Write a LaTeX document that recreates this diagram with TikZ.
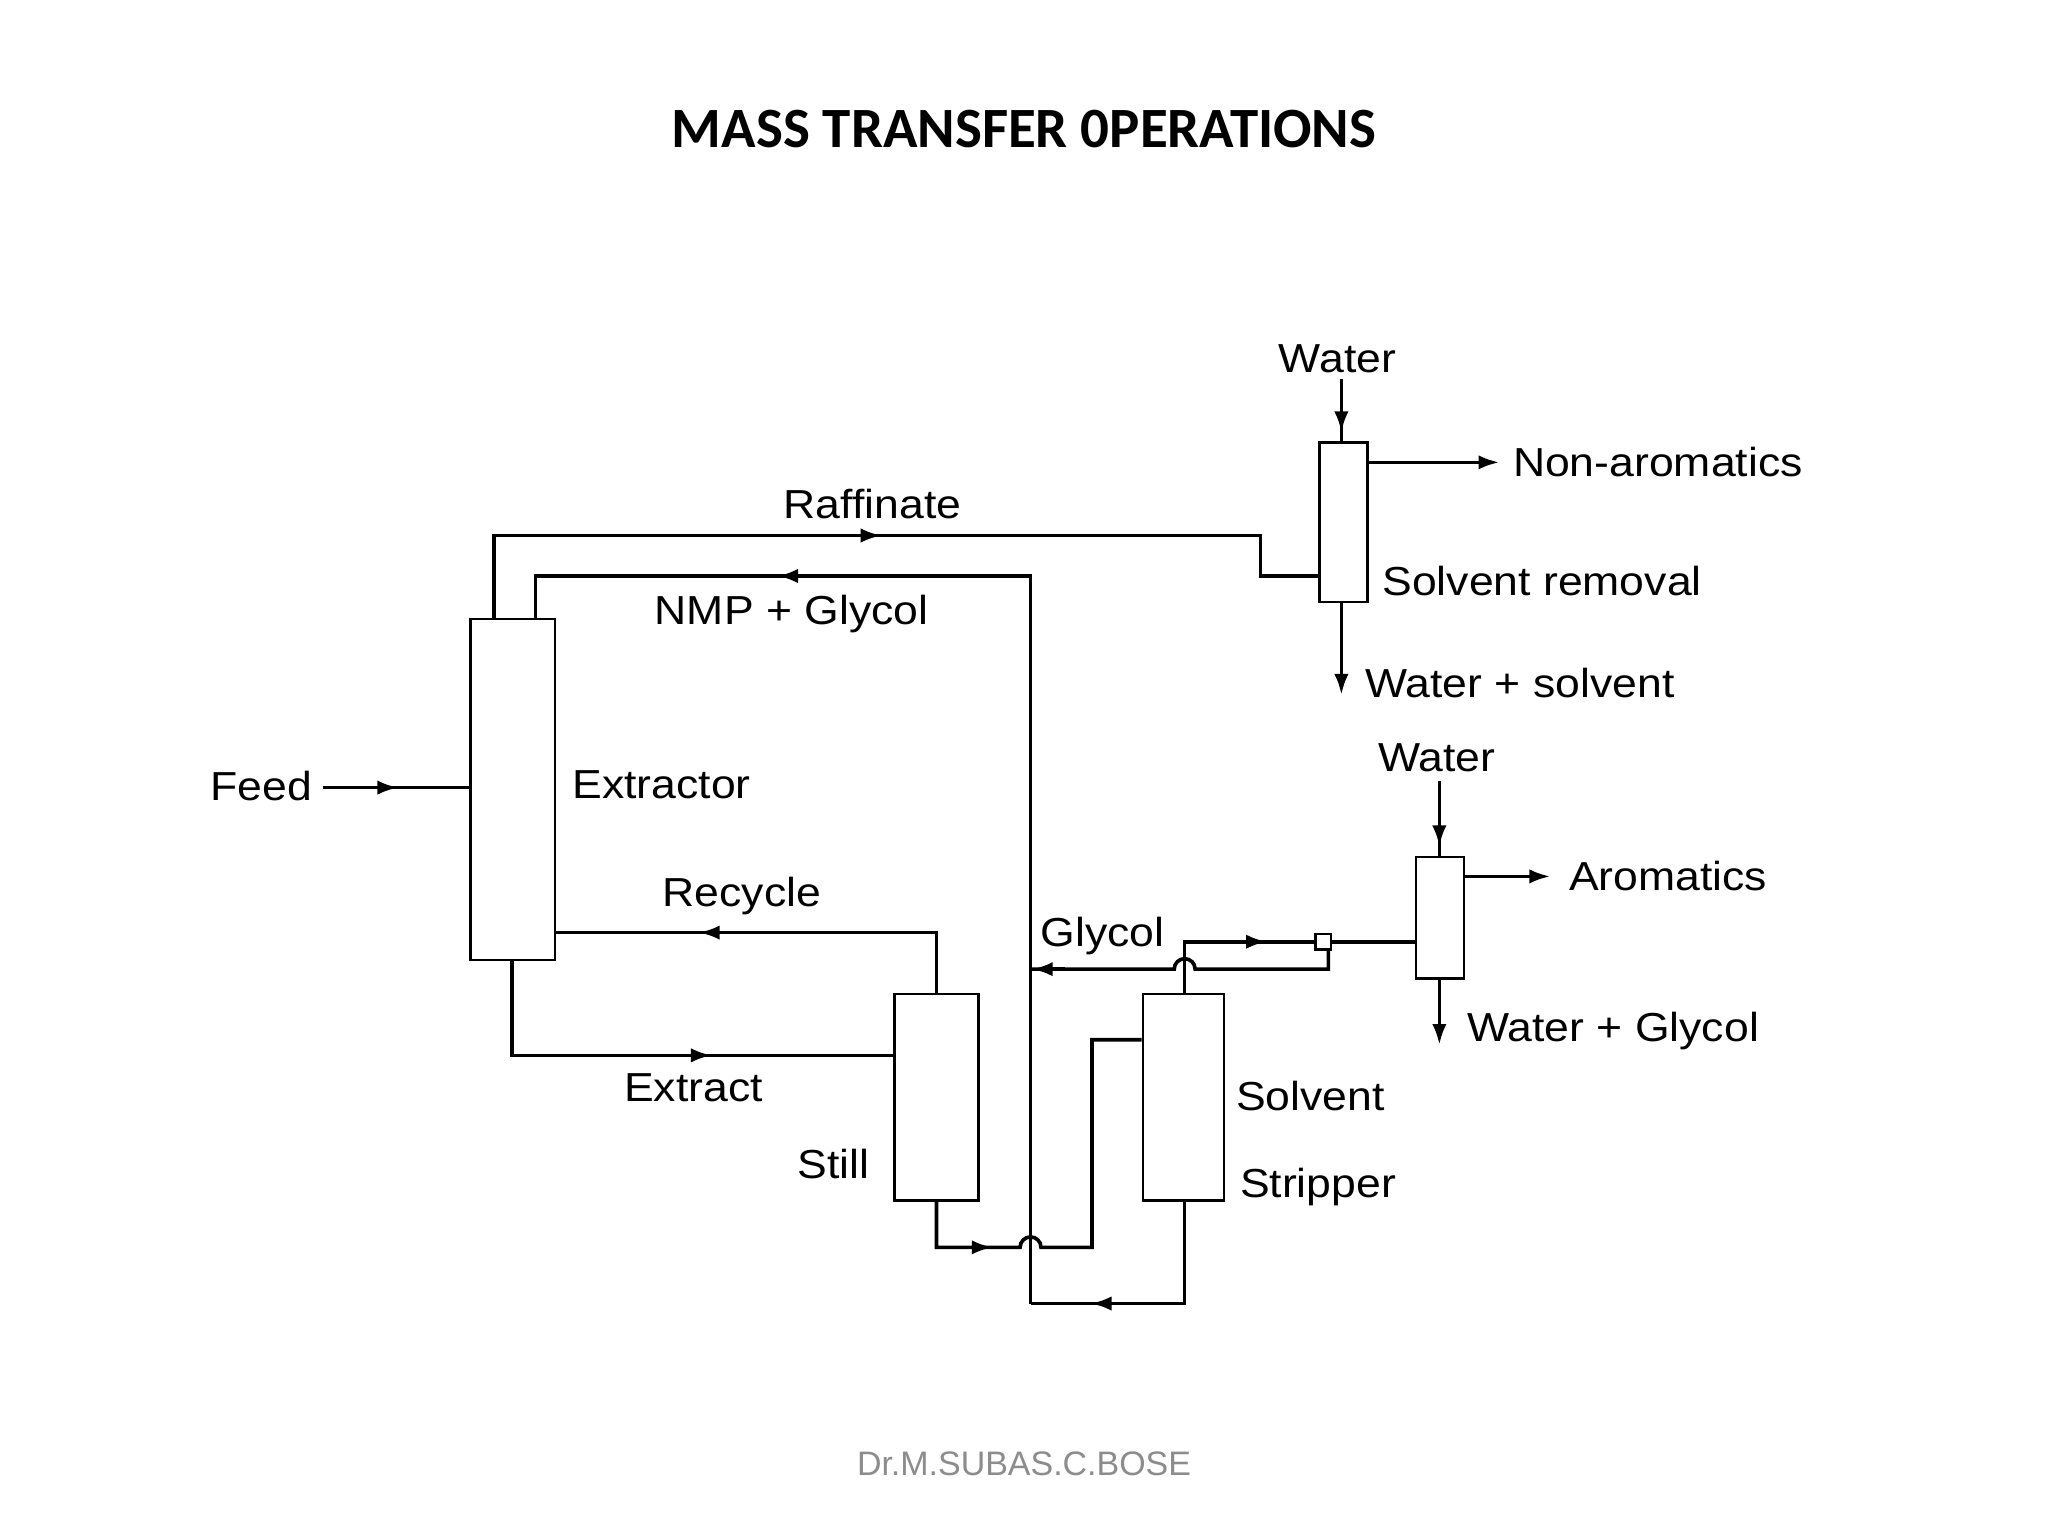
\documentclass[tikz,border=0pt]{standalone}
\usepackage{fontspec}
\setmainfont{Liberation Sans}[FakeStretch=1.1]
\newfontfamily\titlefont{Carlito}
\newfontfamily\footfont{Liberation Sans}
\usetikzlibrary{arrows.meta}
\begin{document}
\begin{tikzpicture}[x=0.5pt,y=-0.5pt,
  box/.style={draw,line width=1pt,inner sep=0pt,fill=white},
  pipe/.style={line width=1.4pt},
  tip/.style={line width=1.4pt,-{Latex[length=8pt,width=5.5pt]}},
  lbl/.style={font=\fontsize{15.5}{17}\selectfont,inner sep=0pt}]
\useasboundingbox[fill=white] (0,0) rectangle (1568,1176);
\node[font=\titlefont\bfseries\fontsize{21.8}{24}\selectfont] (title) at (784,99) {MASS TRANSFER 0PERATIONS};
\node[font=\footfont\fontsize{13}{15}\selectfont,text=black!45] (foot) at (784,1121) {Dr.M.SUBAS.C.BOSE};
% units
\node[box,minimum width=32.5pt,minimum height=130.5pt] (ext) at (392.5,604.5) {};
\node[box,minimum width=32pt,minimum height=79pt] (still) at (717,840) {};
\node[box,minimum width=31pt,minimum height=79pt] (strip) at (906,840) {};
\node[box,minimum width=18.5pt,minimum height=61pt] (srem) at (1028.5,400) {};
\node[box,minimum width=18.5pt,minimum height=46.5pt] (arom) at (1102.5,702.5) {};
\node[box,minimum size=6pt] (mix) at (1013,721) {};
% labels
\node[lbl] (lfeed) at (200,602) {Feed};
\node[lbl,anchor=west] (lext) at (438,601) {Extractor};
\node[lbl] (lraf) at (668,386) {Raffinate};
\node[lbl] (lnmp) at (606,470) {NMP + Glycol};
\node[lbl] (lrec) at (568,686) {Recycle};
\node[lbl] (lextr) at (531,833) {Extract};
\node[lbl] (lstill) at (638,891) {Still};
\node[lbl,anchor=west] (lsolv) at (946,839) {Solvent};
\node[lbl,anchor=west] (lstrp) at (949,909) {Stripper};
\node[lbl] (lgly) at (844,717) {Glycol};
\node[lbl] (lw1) at (1024,275) {Water};
\node[lbl,anchor=west] (lnon) at (1158,354) {Non-aromatics};
\node[lbl,anchor=west] (lsr) at (1058,445) {Solvent removal};
\node[lbl,anchor=west] (lws) at (1045,523) {Water + solvent};
\node[lbl] (lw2) at (1100,580) {Water};
\node[lbl,anchor=west] (larom) at (1201,671) {Aromatics};
\node[lbl,anchor=west] (lwg) at (1123,789) {Water + Glycol};
% coordinates
\coordinate (feedS) at (247,603);
\coordinate (vx) at (789,441);
% feed
\draw[pipe] (feedS) -- (ext.west |- feedS);
\draw[tip] (280,603) -- (305,603);
% raffinate
\draw[pipe] (378,474) -- (378,410) -- (965,410) -- (965,441) -- (srem.west |- 0,441);
\draw[tip] (650,410) -- (675,410);
% NMP + glycol
\draw[pipe] (789,998) -- (vx) -- (410,441) -- (410,474);
\draw[tip] (620,441) -- (595,441);
% solvent removal streams
\draw[pipe] (1027,290) -- (srem.north -| 1027,0);
\draw[tip] (1027,305) -- (1027,331);
\draw[tip] (srem.east |- 0,354) -- (1148,354);
\draw[tip] (srem.south -| 1027,0) -- (1027,532);
% recycle
\draw[pipe] (still.north -| 717,0) -- (717,714) -- (ext.east |- 0,714);
\draw[tip] (560,714) -- (535,714);
% extract
\draw[pipe] (ext.south -| 392,0) -- (392,808) -- (still.west |- 0,808);
\draw[tip] (520,808) -- (545,808);
% still bottom to stripper
\draw[pipe] (still.south -| 717,0) -- (717,955) -- (781,955) arc (180:0:4pt) -- (836,955) -- (836,796) -- (strip.west |- 0,796);
\draw[tip] (735,955) -- (760,955);
% stripper bottom
\draw[pipe] (strip.south -| 907,0) -- (907,998) -- (789,998);
\draw[tip] (860,998) -- (835,998);
% stripper top
\draw[pipe] (strip.north -| 907,0) -- (907,721) -- (mix.west);
\draw[pipe] (mix.east) -- (arom.west |- mix.east);
\draw[tip] (945,721) -- (970,721);
% glycol return
\draw[pipe] (mix.south -| 1017,0) -- (1017,742) -- (915,742) arc (0:180:4pt) -- (vx |- 0,742);
\draw[tip] (815,742) -- (790,742);
% aromatics
\draw[pipe] (1102,598) -- (arom.north -| 1102,0);
\draw[tip] (1102,610) -- (1102,648);
\draw[tip] (arom.east |- 0,671) -- (1187,671);
\draw[tip] (arom.south -| 1102,0) -- (1102,800);
\end{tikzpicture}
\end{document}
